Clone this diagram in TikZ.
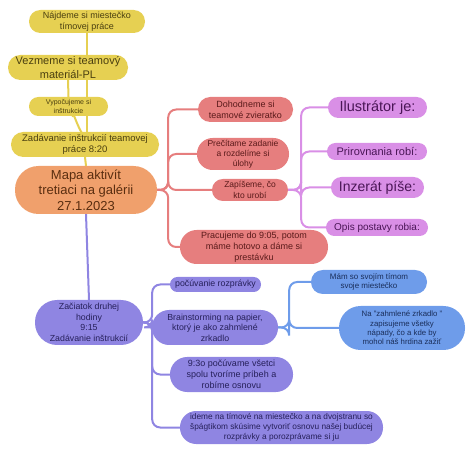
\documentclass[tikz,border=0pt]{standalone}
\usepackage{fontspec}
\setmainfont{Liberation Sans}
\usetikzlibrary{backgrounds}
\definecolor{yel}{HTML}{E6D052}
\definecolor{yelT}{HTML}{4A3F10}
\definecolor{ora}{HTML}{F0A06C}
\definecolor{oraT}{HTML}{5A2E10}
\definecolor{red1}{HTML}{E67E7E}
\definecolor{redT}{HTML}{5A1A1A}
\definecolor{vio}{HTML}{D98FE6}
\definecolor{vioT}{HTML}{4A1656}
\definecolor{bvi}{HTML}{8F85E2}
\definecolor{bviT}{HTML}{26205A}
\definecolor{blu}{HTML}{6E9CEA}
\definecolor{bluT}{HTML}{1A2E5A}
\newcommand\fsz[1]{\fontsize{#1pt}{\the\dimexpr #1pt*12/10\relax}\selectfont}
\tikzset{
  sz/.style 2 args={minimum width=#1pt, minimum height=#2pt, rounded corners=0.49*#2},
  nd/.style={draw=none, align=center, inner sep=0pt},
  ynd/.style={nd, fill=yel, text=yelT},
  ond/.style={nd, fill=ora, text=oraT},
  rnd/.style={nd, fill=red1, text=redT},
  vnd/.style={nd, fill=vio, text=vioT},
  bnd/.style={nd, fill=bvi, text=bviT},
  cnd/.style={nd, fill=blu, text=bluT},
  con/.style={line width=2pt, line cap=round, rounded corners=8pt},
}
\begin{document}
\begin{tikzpicture}[x=1pt,y=-1pt]
\useasboundingbox (0,0) rectangle (474,454);
% yellow
\node[ynd, sz={116}{23}, font=\fsz{9}] (y1) at (87,21.5) {Nájdeme si miestečko\\tímovej práce};
\node[ynd, sz={120}{25}, font=\fsz{11}] (y2) at (68,67.5) {Vezmeme si teamový\\materiál-PL};
\node[ynd, sz={79}{19}, font=\fsz{7}] (y3) at (68.5,106.5) {Vypočujeme si\\inštrukcie};
\node[ynd, sz={148}{25}, font=\fsz{9.5}] (y4) at (85,144.5) {Zadávanie inštrukcií teamovej\\práce 8:20};
% center
\node[ond, sz={142}{48}, font=\fsz{13}] (c) at (86,190) {Mapa aktivít\\tretiaci na galérii\\27.1.2023};
% red
\node[rnd, sz={95}{25}, font=\fsz{9}] (r1) at (245.5,109.5) {Dohodneme si\\teamové zvieratko};
\node[rnd, sz={92}{32}, font=\fsz{8.5}] (r2) at (243,154) {Prečítame zadanie\\a rozdelíme si\\úlohy};
\node[rnd, sz={76}{22}, font=\fsz{8.5}] (r3) at (250,190) {Zapíšeme, čo\\kto urobí};
\node[rnd, sz={148}{34}, font=\fsz{9}] (r4) at (254,247) {Pracujeme do 9:05, potom\\máme hotovo a dáme si\\prestávku};
% violet
\node[vnd, sz={99}{21}, font=\fsz{14.5}] (p1) at (377.5,107.5) {Ilustrátor je:};
\node[vnd, sz={100}{17}, font=\fsz{11}] (p2) at (377,151.5) {Prirovnania robí:};
\node[vnd, sz={93}{21}, font=\fsz{14}] (p3) at (377.5,187.5) {Inzerát píše:};
\node[vnd, sz={102}{17}, font=\fsz{10}] (p4) at (377,227.5) {Opis postavy robia:};
% blue-violet
\node[bnd, sz={108}{45}, font=\fsz{8.8}] (b0) at (89,322.5) {Začiatok druhej\\hodiny\\9:15\\Zadávanie inštrukcií};
\node[bnd, sz={91}{15}, font=\fsz{8.8}] (b1) at (215.5,284.5) {počúvanie rozprávky};
\node[bnd, sz={126}{35}, font=\fsz{8.8}] (b2) at (215,327.5) {Brainstorming na papier,\\ktorý je ako zahmlené\\zrkadlo};
\node[bnd, sz={123}{35}, font=\fsz{9}] (b3) at (231.5,374.5) {9:3o počúvame všetci\\spolu tvoríme príbeh a\\robíme osnovu};
\node[bnd, sz={203}{33}, font=\fsz{8.3}] (b4) at (281.5,427.5) {ideme na tímové na miestečko a na dvojstranu so\\špágtikom skúsime vytvoriť osnovu našej budúcej\\rozprávky a porozprávame si ju};
% blue
\node[cnd, sz={116}{24}, font=\fsz{8}] (c1) at (369,282) {Mám so svojím tímom\\svoje miestečko};
\node[cnd, sz={126}{44}, font=\fsz{7.8}] (c2) at (402,328) {Na "zahmlené zrkadlo "\\zapisujeme všetky\\nápady, čo a kde by\\mohol náš hrdina zažiť};
\begin{pgfonlayer}{background}
% yellow tree
\draw[con, yel] (y1.south) -- (y1.south |- y4.north);
\draw[con, yel] (y2.south) .. controls ([yshift=8pt]y2.south) and ([yshift=-8pt]y3.north) .. (y3.north);
\draw[con, yel] ([xshift=4pt]y3.south) .. controls ([xshift=4pt,yshift=10pt]y3.south) and ([xshift=-8pt,yshift=-4pt]y4.north -| y1.south) .. ([yshift=-6pt]y4.north -| y1.south);
\draw[con, yel] (c.north) -- (y4.south);
% red
\foreach \k in {r1,r2,r3,r4} \draw[con, red1] (c.east) -- ++(11,0) |- (\k.west);
% violet
\foreach \k in {p1,p2,p3,p4} \draw[con, vio] (r3.east) -- ++(13,0) |- (\k.west);
% blue-violet
\draw[con, bvi] (c.south) -- (b0.north);
\foreach \k in {b1,b2,b3,b4} \draw[con, bvi] (b0.east) -- ++(9,0) |- (\k.west);
% blue
\foreach \k in {c1,c2} \draw[con, blu] (b2.east) -- ++(11,0) |- (\k.west);
\end{pgfonlayer}
\end{tikzpicture}
\end{document}
